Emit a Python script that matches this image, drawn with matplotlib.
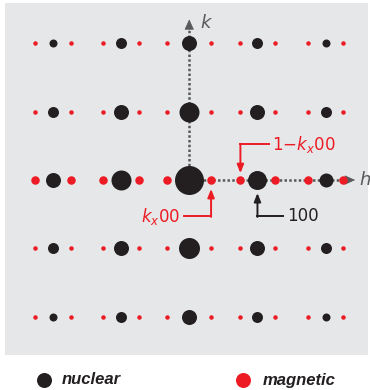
import numpy as np
import matplotlib
matplotlib.use("Agg")
import matplotlib.pyplot as plt

# reciprocal lattice, h along x, k along y
h_vals = [-2, -1, 0, 1, 2]
k_vals = [2, 1, 0, -1, -2]

# nuclear peak strength per row (k = 2 .. -2), per column (h = -2 .. 2)
nuc_int = [
    [0.8, 1.1, 1.5, 1.1, 0.8],
    [1.1, 1.5, 2.0, 1.5, 1.1],
    [1.5, 2.0, 2.9, 1.9, 1.4],
    [1.1, 1.5, 2.1, 1.5, 1.1],
    [0.8, 1.1, 1.5, 1.1, 0.8],
]
# magnetic satellites at h +/- offset
mag_offset = [0.26, 0.26, 0.32, 0.26, 0.26]
mag_int = [0.45, 0.45, 0.85, 0.45, 0.45]

kx = 0.32
legend_labels = ["nuclear", "magnetic"]

black = "#231f20"
red = "#ed1c24"
gray = "#58595b"
bg = "#e6e7e8"

def size(v):
    d = v * 10 * 0.72   # px -> pt at 100 dpi
    return d ** 2

fig = plt.figure(figsize=(3.7, 3.9), dpi=100)
ax = fig.add_axes([5 / 370, 35 / 390, 363 / 370, 352 / 390])
ax.set_facecolor(bg)
ax.set_xlim(-2.70, 2.62)
ax.set_ylim(-2.56, 2.59)
for s in ax.spines.values():
    s.set_visible(False)
ax.set_xticks([])
ax.set_yticks([])

# dotted axes
ax.plot([0, 0], [0, 2.2], color=gray, lw=1.8, ls=(0, (1, 0.9)), zorder=1)
ax.plot([0, 2.28], [0, 0], color=gray, lw=1.8, ls=(0, (1, 0.9)), zorder=1)
head = "-|>,head_length=0.65,head_width=0.3"
ax.annotate("", xy=(0, 2.35), xytext=(0, 2.2),
            arrowprops=dict(arrowstyle=head, color=gray, lw=0.5,
                            shrinkA=0, shrinkB=0), zorder=1)
ax.annotate("", xy=(2.43, 0), xytext=(2.28, 0),
            arrowprops=dict(arrowstyle=head, color=gray, lw=0.5,
                            shrinkA=0, shrinkB=0), zorder=1)
ax.text(0.17, 2.30, "k", color=gray, fontsize=13, style="italic",
        ha="left", va="center")
ax.text(2.49, 0, "h", color=gray, fontsize=13, style="italic",
        ha="left", va="center")

# peaks
for i, k in enumerate(k_vals):
    for j, h in enumerate(h_vals):
        ax.scatter([h - mag_offset[j], h + mag_offset[j]], [k, k],
                   s=size(mag_int[i]), color=red, lw=0, zorder=2)
        ax.scatter(h, k, s=size(nuc_int[i][j]), color=black, lw=0, zorder=3)

# annotations
lab_y = 0.52
ax.plot([1.17, 0.75], [lab_y, lab_y], color=red, lw=1.4, zorder=4)
ax.annotate("", xy=(0.75, 0.1), xytext=(0.75, lab_y + 0.01),
            arrowprops=dict(arrowstyle="-|>,head_length=0.5,head_width=0.2",
                            color=red, lw=1.4, shrinkA=0, shrinkB=0), zorder=4)
ax.text(1.22, lab_y, r"1$-k_x$00", color=red, fontsize=12,
        ha="left", va="center")

low_y = -0.53
ax.plot([-0.08, kx], [low_y, low_y], color=red, lw=1.4, zorder=4)
ax.annotate("", xy=(kx, -0.13), xytext=(kx, low_y - 0.01),
            arrowprops=dict(arrowstyle="-|>,head_length=0.5,head_width=0.2",
                            color=red, lw=1.4, shrinkA=0, shrinkB=0), zorder=4)
ax.text(-0.13, low_y, r"$k_x$00", color=red, fontsize=12,
        ha="right", va="center")

ax.plot([1.38, 1.0], [low_y, low_y], color=black, lw=1.4, zorder=4)
ax.annotate("", xy=(1.0, -0.19), xytext=(1.0, low_y - 0.01),
            arrowprops=dict(arrowstyle="-|>,head_length=0.5,head_width=0.2",
                            color=black, lw=1.4, shrinkA=0, shrinkB=0), zorder=4)
ax.text(1.43, low_y, "100", color=black, fontsize=12,
        ha="left", va="center")

# legend
lg = fig.add_axes([0, 0, 1, 1], facecolor="none")
lg.set_xlim(0, 370)
lg.set_ylim(390, 0)
lg.axis("off")
lg.scatter([44], [380], s=(15 * 0.72) ** 2, color=black, lw=0)
lg.scatter([243], [380], s=(15 * 0.72) ** 2, color=red, lw=0)
lg.text(62, 380, legend_labels[0], family="Liberation Sans", fontsize=12,
        weight="bold", style="italic", color=black, va="center")
lg.text(263, 380, legend_labels[1], family="Liberation Sans", fontsize=12,
        weight="bold", style="italic", color=black, va="center")

fig.savefig("out.png", dpi=100)
